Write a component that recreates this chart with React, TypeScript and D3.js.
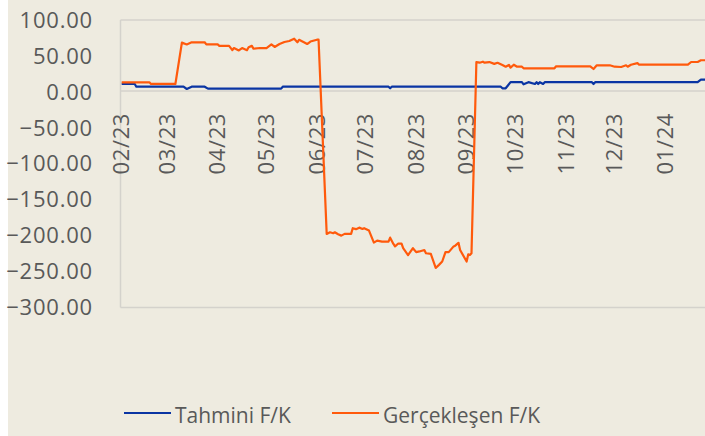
import * as d3 from 'd3';

const tahminiDates = [
  '2023-02-01', '2023-02-09', '2023-02-10', '2023-03-11', '2023-03-13', '2023-03-16', '2023-03-24',
  '2023-03-26', '2023-05-10', '2023-05-11', '2023-07-15', '2023-07-16', '2023-07-17', '2023-09-22',
  '2023-09-23', '2023-09-25', '2023-09-28', '2023-10-05', '2023-10-06', '2023-10-09', '2023-10-13',
  '2023-10-14', '2023-10-15', '2023-10-16', '2023-10-18', '2023-10-19', '2023-11-17', '2023-11-18',
  '2023-11-19', '2024-01-21', '2024-01-23', '2024-01-28',
];
const tahminiValues = [
  11, 11, 7.2, 7.2, 4, 7.2, 7.2,
  4.5, 4.5, 7.2, 7.2, 5, 7.2, 7.2,
  5, 5, 13.5, 13.5, 10.5, 13.5, 11,
  13.5, 11, 13.5, 11, 13.5, 13.5, 11,
  13.5, 13.5, 17, 17,
];

const gerceklesenDates = [
  '2023-02-01', '2023-02-18', '2023-02-19', '2023-03-06', '2023-03-10', '2023-03-13', '2023-03-16',
  '2023-03-24', '2023-03-25', '2023-04-01', '2023-04-02', '2023-04-08', '2023-04-10', '2023-04-11',
  '2023-04-14', '2023-04-16', '2023-04-19', '2023-04-20', '2023-04-22', '2023-04-23', '2023-04-27',
  '2023-05-01', '2023-05-04', '2023-05-06', '2023-05-09', '2023-05-12', '2023-05-15', '2023-05-18',
  '2023-05-20', '2023-05-21', '2023-05-24', '2023-05-26', '2023-05-28', '2023-06-01', '2023-06-02',
  '2023-06-07', '2023-06-09', '2023-06-11', '2023-06-12', '2023-06-14', '2023-06-16', '2023-06-18',
  '2023-06-22', '2023-06-23', '2023-06-25', '2023-06-27', '2023-06-29', '2023-06-30', '2023-07-03',
  '2023-07-06', '2023-07-08', '2023-07-11', '2023-07-15', '2023-07-16', '2023-07-18', '2023-07-19',
  '2023-07-21', '2023-07-23', '2023-07-24', '2023-07-27', '2023-07-30', '2023-08-01', '2023-08-03',
  '2023-08-06', '2023-08-07', '2023-08-10', '2023-08-13', '2023-08-15', '2023-08-17', '2023-08-19',
  '2023-08-21', '2023-08-24', '2023-08-25', '2023-08-27', '2023-08-28', '2023-09-01', '2023-09-02',
  '2023-09-03', '2023-09-04', '2023-09-07', '2023-09-09', '2023-09-11', '2023-09-12', '2023-09-15',
  '2023-09-18', '2023-09-20', '2023-09-23', '2023-09-25', '2023-09-27', '2023-09-28', '2023-09-30',
  '2023-10-02', '2023-10-05', '2023-10-06', '2023-10-25', '2023-10-26', '2023-11-16', '2023-11-18',
  '2023-11-20', '2023-11-28', '2023-12-01', '2023-12-05', '2023-12-08', '2023-12-09', '2023-12-11',
  '2023-12-15', '2023-12-16', '2024-01-15', '2024-01-17', '2024-01-21', '2024-01-23', '2024-01-28',
];
const gerceklesenValues = [
  13.3, 13.3, 11, 11, 68.5, 66, 69,
  69, 66, 66, 64, 64, 58, 61,
  57.6, 61, 58, 62, 64, 60, 61,
  61, 66, 62.5, 66.6, 69.4, 70.8, 74,
  69, 72.5, 69, 66.6, 70, 72.6, 72.6,
  -197.6, -195.3, -196.7, -195.3, -198, -200, -197.6,
  -197.6, -189.7, -191, -188.9, -190.7, -189.7, -193,
  -209.7, -207, -208.3, -208.3, -202.8, -211.5, -215,
  -211, -211, -217.5, -227, -217.5, -223, -222,
  -220, -224.5, -225.5, -245, -240.7, -236, -223,
  -223, -215, -214, -210, -220, -236, -226,
  -227, -224.5, 41.5, 40.6, 42, 40.6, 41.5,
  39, 40.5, 37.4, 35, 37.5, 33.7, 37.8,
  35, 35, 32.8, 32.8, 35.6, 35.6, 31.8,
  37, 37, 35, 34.6, 37, 35, 37.8,
  40, 37.8, 37.8, 41.6, 41.6, 44, 44,
];

const yTicks = [100, 50, 0, -50, -100, -150, -200, -250, -300];
const monthTicks = [
  '2023-02-01', '2023-03-01', '2023-04-01', '2023-05-01', '2023-06-01', '2023-07-01',
  '2023-08-01', '2023-09-01', '2023-10-01', '2023-11-01', '2023-12-01', '2024-01-01',
];
const seriesNames = ['Tahmini F/K', 'Gerçekleşen F/K'];
const seriesColors = ['#0a35a3', '#ff5a0c'];

const W = 705;
const H = 436;
const FONT = '"Open Sans", sans-serif';
const TEXT = '#595959';

export default function App() {
  const parse = d3.timeParse('%Y-%m-%d');
  const x = d3.scaleTime()
    .domain([parse('2023-02-01')!, parse('2024-02-01')!])
    .range([121.7, 121.7 + 365 * 1.627]);
  const y = d3.scaleLinear().domain([-300, 100]).range([307.5, 20]);

  const series = [
    tahminiDates.map((d, i) => ({ date: parse(d)!, value: tahminiValues[i] })),
    gerceklesenDates.map((d, i) => ({ date: parse(d)!, value: gerceklesenValues[i] })),
  ];

  const line = d3.line<{ date: Date; value: number }>()
    .x(d => x(d.date))
    .y(d => y(d.value));

  const fmt = d3.format('.2f');

  return (
    <svg width={W} height={H} style={{ position: 'absolute', left: 0, top: 0 }} fontFamily={FONT}>
      <rect x={8} y={0} width={W - 8} height={H} fill="#eeebe0" />
      <defs>
        <clipPath id="plot">
          <rect x={120} y={0} width={W - 120} height={H} />
        </clipPath>
      </defs>

      {/* plot frame */}
      <line x1={120.5} x2={W} y1={20} y2={20} stroke="#d4d2cc" strokeWidth={1.5} />
      <line x1={120.5} x2={W} y1={307.5} y2={307.5} stroke="#d4d2cc" strokeWidth={1.5} />
      <line x1={120.5} x2={120.5} y1={20} y2={307.5} stroke="#d4d2cc" strokeWidth={1.5} />
      <line x1={120.5} x2={W} y1={y(0) - 1} y2={y(0) - 1} stroke="#d4d2cc" strokeWidth={1.5} />

      {yTicks.map(t => (
        <text key={t} x={93} y={y(t)} dy="0.35em" textAnchor="end" fontSize={22} fill={TEXT}
          letterSpacing={0.8}>
          {fmt(t)}
        </text>
      ))}

      {monthTicks.map(m => {
        const d = parse(m)!;
        const px = x(d);
        return (
          <text key={m} transform={`translate(${px},113) rotate(-90)`} dy="0.35em" textAnchor="end"
            fontSize={22} fill={TEXT} letterSpacing={0.6}>
            {d3.timeFormat('%m/%y')(d)}
          </text>
        );
      })}

      <g clipPath="url(#plot)">
        {series.map((s, i) => (
          <path key={i} d={line(s) ?? ''} fill="none" stroke={seriesColors[i]} strokeWidth={2.2}
            strokeLinejoin="round" />
        ))}
      </g>

      {/* legend */}
      <line x1={124} x2={171} y1={413} y2={413} stroke={seriesColors[0]} strokeWidth={2.2} />
      <text x={175} y={423} fontSize={21} fill={TEXT}>{seriesNames[0]}</text>
      <line x1={332} x2={379} y1={413} y2={413} stroke={seriesColors[1]} strokeWidth={2.2} />
      <text x={383} y={423} fontSize={21} fill={TEXT}>{seriesNames[1]}</text>
    </svg>
  );
}
